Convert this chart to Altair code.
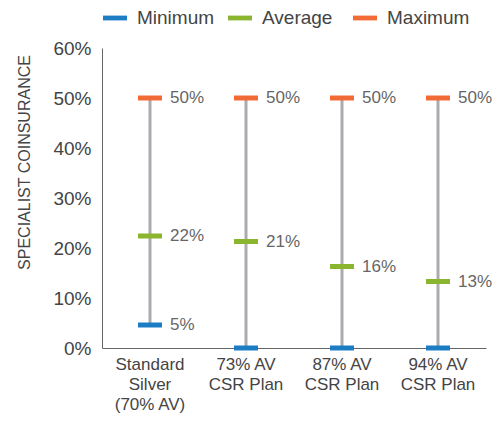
import altair as alt
import pandas as pd

plans = ["Standard|Silver|(70% AV)", "73% AV|CSR Plan", "87% AV|CSR Plan", "94% AV|CSR Plan"]
minimum = [4.6, 0.0, 0.0, 0.0]
average = [22.4, 21.3, 16.3, 13.3]
maximum = [50.0, 50.0, 50.0, 50.0]
min_labels = ["5%", "", "", ""]
avg_labels = ["22%", "21%", "16%", "13%"]
max_labels = ["50%", "50%", "50%", "50%"]

stats = ["Minimum", "Average", "Maximum"]
colors = ["#1c7cc4", "#8bb52e", "#f26a36"]

wide = pd.DataFrame({"plan": plans, "min": minimum, "max": maximum})
rows = []
for i, p in enumerate(plans):
    rows.append({"plan": p, "stat": "Minimum", "value": minimum[i], "label": min_labels[i]})
    rows.append({"plan": p, "stat": "Average", "value": average[i], "label": avg_labels[i]})
    rows.append({"plan": p, "stat": "Maximum", "value": maximum[i], "label": max_labels[i]})
long = pd.DataFrame(rows)

FONT = "Liberation Sans"

x = alt.X("plan:N", sort=plans, scale=alt.Scale(paddingInner=0, paddingOuter=0),
          axis=alt.Axis(title=None, labelAngle=0, labelAlign="center", ticks=False,
                        domainColor="#666", labelExpr="split(datum.label, '|')",
                        labelFontSize=17, labelColor="#444", labelFont=FONT,
                        labelPadding=16, labelLineHeight=20, zindex=0))
y = alt.Y("value:Q", scale=alt.Scale(domain=[0, 60]),
          axis=alt.Axis(title="SPECIALIST  COINSURANCE", values=[0, 10, 20, 30, 40, 50, 60],
                        labelExpr="datum.value + '%'", grid=False, ticks=False,
                        domainColor="#666", labelFontSize=19, labelColor="#444",
                        labelFont=FONT, labelPadding=11, titleFont=FONT,
                        titleFontSize=16, titleFontWeight="normal", titleColor="#444",
                        titleX=-78, titleY=114, titleAngle=-90, titleAlign="center",
                        titleBaseline="middle", zindex=0))

rules = alt.Chart(wide).mark_rule(color="#aaaab0", strokeWidth=3).encode(
    x=alt.X("plan:N", sort=plans), y=alt.Y("min:Q"), y2="max:Q")

ticks = alt.Chart(long).mark_tick(size=24, thickness=5, opacity=1).encode(
    x=x, y=y,
    color=alt.Color("stat:N", scale=alt.Scale(domain=stats, range=colors),
                    legend=alt.Legend(title=None, orient="none", direction="horizontal",
                                      legendX=1, legendY=-42,
                                      symbolType="M-1,-0.2H1V0.2H-1Z",
                                      symbolSize=576, symbolOpacity=1,
                                      symbolStrokeWidth=0, gridAlign="all",
                                      labelFontSize=19, labelColor="#444",
                                      labelFont=FONT, columnPadding=8,
                                      labelOffset=10, labelLimit=200, padding=0)))

labels = alt.Chart(long).transform_filter("datum.label != ''").mark_text(
    align="left", baseline="middle", dx=20, fontSize=17, color="#666", font=FONT
).encode(x=alt.X("plan:N", sort=plans), y="value:Q", text="label:N")

chart = alt.layer(rules, ticks, labels).properties(
    width=384, height=300,
    autosize=alt.AutoSizeParams(type="none"),
    padding={"left": 94, "top": 40, "right": 6, "bottom": 66},
).configure_view(stroke=None)

chart.save("out.html", embed_options={"renderer": "svg", "actions": False})
